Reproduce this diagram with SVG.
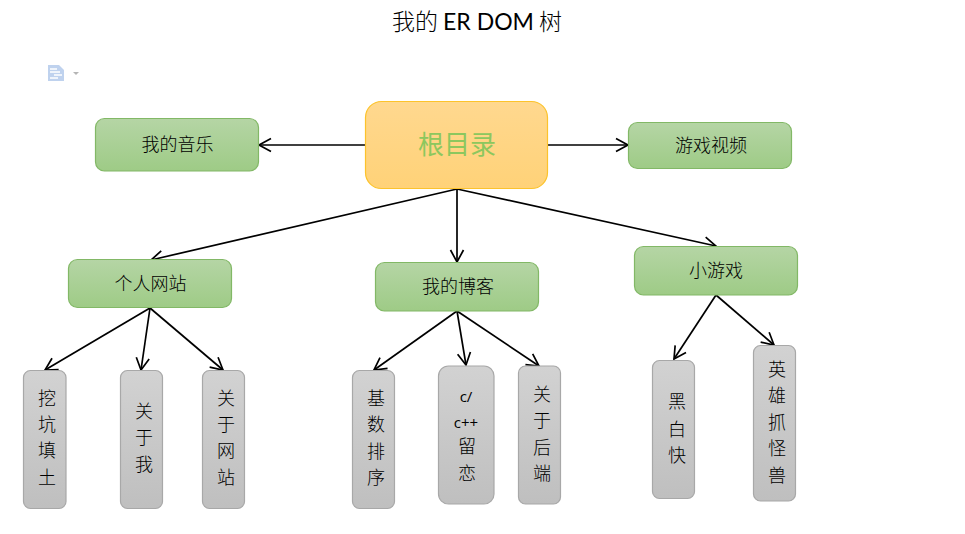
<svg xmlns="http://www.w3.org/2000/svg" width="965" height="534" viewBox="0 0 965 534">
<style>
text{font-family:"Noto Sans CJK SC","Noto Sans",sans-serif;fill:#000;text-anchor:middle;font-size:18px;font-weight:300}
.title{font-size:23px;fill:#000}
.title .l{font-family:"Lato",sans-serif;font-weight:400}
.g{fill:url(#gg);stroke:#82b866;stroke-width:1.2}
.s{fill:url(#gs);stroke:#a8a8a8;stroke-width:1.2}
.r{fill:url(#go);stroke:#fcc32c;stroke-width:1.2}
.c{fill:none;stroke:#000;stroke-width:1.7;marker-end:url(#a)}
.root{font-size:26px;fill:#8cc75e;font-weight:400}
.lat{font-family:"Open Sans",sans-serif;font-size:15px;font-weight:400;fill:#000}
</style>
<defs>
<linearGradient id="gg" x1="0" y1="0" x2="0" y2="1"><stop offset="0" stop-color="#b5d5a5"/><stop offset="1" stop-color="#9ecb86"/></linearGradient>
<linearGradient id="gs" x1="0" y1="0" x2="0" y2="1"><stop offset="0" stop-color="#d2d2d2"/><stop offset="1" stop-color="#bfbfbf"/></linearGradient>
<linearGradient id="go" x1="0" y1="0" x2="0" y2="1"><stop offset="0" stop-color="#ffd88f"/><stop offset="1" stop-color="#ffd278"/></linearGradient>
<marker id="a" markerUnits="userSpaceOnUse" markerWidth="16" markerHeight="16" refX="13" refY="8" orient="auto" overflow="visible"><path d="M1 1.500 L13 8 L1 14.500" fill="none" stroke="#000" stroke-width="1.7"/></marker>
</defs>
<text class="title" x="477" y="30">我的 <tspan class="l">ER DOM</tspan> 树</text>
<g id="doc-icon"><path d="M48 65H59L64 70V81H48Z" fill="#bfd2ee"/><path d="M50 69H57M50 72H60M54 75H62M50 78H58" stroke="#fff" stroke-width="1.3" fill="none"/><path d="M73 72H79L76 75Z" fill="#b5b5b5"/></g>
<g id="connectors">
<path class="c" d="M365 145H259"/>
<path class="c" d="M548 145H628"/>
<path class="c" d="M457 189L151 260"/>
<path class="c" d="M457 189V262"/>
<path class="c" d="M457 189L716 246"/>
<path class="c" d="M150 308L45 370"/>
<path class="c" d="M150 308L141 370"/>
<path class="c" d="M150 308L223 370"/>
<path class="c" d="M457 311L374 370"/>
<path class="c" d="M457 311L466 365"/>
<path class="c" d="M457 311L539 366"/>
<path class="c" d="M716 295L674 359"/>
<path class="c" d="M716 295L774 345"/>
</g>
<g id="root"><rect class="r" x="365.500" y="101.500" width="182" height="87" rx="16"/><text class="root" x="457" y="154">根目录</text></g>
<g id="music"><rect class="g" x="95.500" y="118.500" width="163" height="52.500" rx="9"/><text x="177.500" y="151">我的音乐</text></g>
<g id="video"><rect class="g" x="628.500" y="122.500" width="163" height="46" rx="9"/><text x="711" y="152">游戏视频</text></g>
<g id="site"><rect class="g" x="68.500" y="259.500" width="163" height="48" rx="9"/><text x="150.500" y="290">个人网站</text></g>
<g id="blog"><rect class="g" x="375.500" y="262.500" width="163" height="48.500" rx="9"/><text x="458" y="293">我的博客</text></g>
<g id="game"><rect class="g" x="634.500" y="246.500" width="163" height="48.500" rx="9"/><text x="716" y="277">小游戏</text></g>
<g id="dig"><rect class="s" x="23.500" y="370.500" width="42.500" height="138" rx="7"/><text x="47" y="405">挖</text><text x="47" y="431">坑</text><text x="47" y="457">填</text><text x="47" y="484">土</text></g>
<g id="me"><rect class="s" x="120.500" y="370.500" width="42" height="138" rx="7"/><text x="144" y="418">关</text><text x="144" y="444">于</text><text x="144" y="471">我</text></g>
<g id="about"><rect class="s" x="202.500" y="370.500" width="42" height="138" rx="7"/><text x="226" y="405">关</text><text x="226" y="431">于</text><text x="226" y="457">网</text><text x="226" y="484">站</text></g>
<g id="radix"><rect class="s" x="352.500" y="370.500" width="42" height="138" rx="7"/><text x="376" y="405">基</text><text x="376" y="431">数</text><text x="376" y="458">排</text><text x="376" y="484">序</text></g>
<g id="cpp"><rect class="s" x="438.500" y="366" width="55.500" height="138" rx="10"/><text class="lat" x="466" y="402">c/</text><text class="lat" x="466" y="428">c++</text><text x="467" y="453">留</text><text x="467" y="480">恋</text></g>
<g id="backend"><rect class="s" x="518.500" y="366" width="42" height="138" rx="7"/><text x="542" y="401">关</text><text x="542" y="427">于</text><text x="542" y="454">后</text><text x="542" y="480">端</text></g>
<g id="bw"><rect class="s" x="652.500" y="360.500" width="42" height="138" rx="7"/><text x="677" y="408">黑</text><text x="677" y="436">白</text><text x="677" y="462">快</text></g>
<g id="hero"><rect class="s" x="753.500" y="345.500" width="42" height="155.500" rx="7"/><text x="777" y="376">英</text><text x="777" y="402">雄</text><text x="777" y="429">抓</text><text x="777" y="455">怪</text><text x="777" y="482">兽</text></g>
</svg>
